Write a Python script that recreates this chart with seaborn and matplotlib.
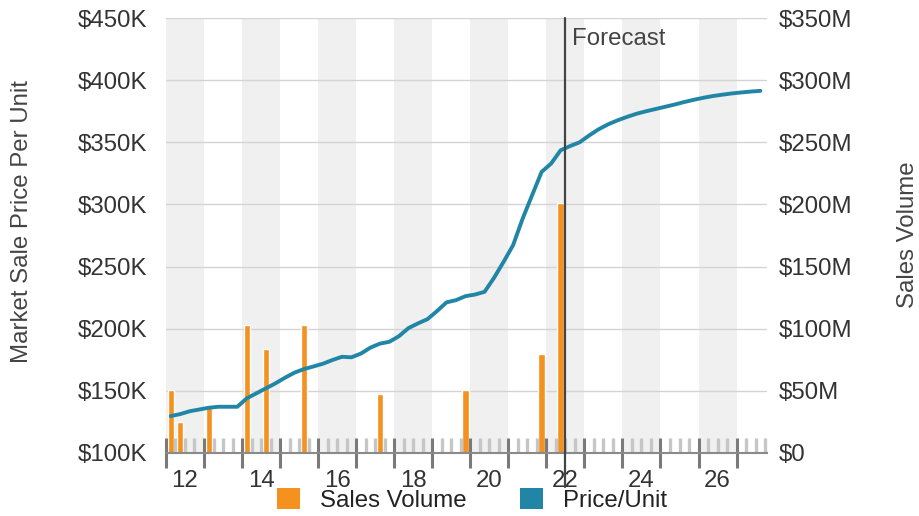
#!/usr/bin/env python
# -*- coding: utf-8 -*-
"""Market sale price per unit vs sales volume, quarterly, with forecast."""

import numpy as np
import pandas as pd
import matplotlib
matplotlib.use("Agg")
import matplotlib.pyplot as plt
from matplotlib.patches import Patch
import seaborn as sns

# ---- data -------------------------------------------------------------
START_QUARTER = "2012Q1"
price_k = [
    129.7, 131.3, 133.6, 135.0, 136.4, 137.2, 137.2, 137.2,
    144.0, 148.0, 152.0, 156.0, 160.5, 164.6, 167.5, 169.6,
    171.8, 174.8, 177.4, 177.0, 180.0, 184.8, 188.0, 189.5,
    194.0, 200.5, 204.3, 207.7, 214.2, 221.2, 223.0, 226.2,
    227.5, 229.7, 241.0, 253.8, 267.2, 288.5, 307.4, 326.2,
    332.9, 343.6, 347.0, 350.0, 355.5, 360.5, 364.5, 367.7,
    370.5, 373.0, 375.0, 376.8, 378.6, 380.4, 382.4, 384.2,
    385.8, 387.2, 388.3, 389.3, 390.1, 390.8, 391.4,
]
vol_quarters = ["2012Q1", "2012Q2", "2013Q1", "2014Q1", "2014Q3",
                "2015Q3", "2017Q3", "2019Q4", "2021Q4", "2022Q2"]
vol_m = [50.6, 25.2, 37.8, 103.0, 83.6, 103.0, 47.4, 50.6, 80.0, 201.0]
FORECAST_START = 2022.5

year_labels = ["12", "14", "16", "18", "20", "22", "24", "26"]
price_ticks = [100, 150, 200, 250, 300, 350, 400, 450]
vol_ticks = [0, 50, 100, 150, 200, 250, 300, 350]

LINE_COLOR = "#2186a6"
BAR_COLOR = "#f4911f"
TEXT_COLOR = "#333333"


def quarter_mid(q):
    p = pd.Period(q, freq="Q")
    return p.year + (p.quarter - 0.5) / 4.0


periods = pd.period_range(START_QUARTER, periods=len(price_k), freq="Q")
df_price = pd.DataFrame({
    "t": [p.year + (p.quarter - 0.5) / 4.0 for p in periods],
    "price": price_k,
})
df_vol = pd.DataFrame({"t": [quarter_mid(q) for q in vol_quarters], "vol": vol_m})

# ---- style ------------------------------------------------------------
sns.set_theme(style="white")
plt.rcParams["font.family"] = ["Liberation Sans", "DejaVu Sans"]
FS = 17.3

fig = plt.figure(figsize=(9.2, 5.16), dpi=100)
# price on the left (front), volume on the right (behind)
ax = fig.add_axes([0.1804, 0.1221, 0.6533, 0.843])
ax2 = ax.twinx()
ax.set_zorder(ax2.get_zorder() + 1)
ax.patch.set_visible(False)

x_min, x_max = 2012.0, 2027.8
ax.set_xlim(x_min, x_max)
ax.set_ylim(100, 450)
ax2.set_ylim(0, 350)

# alternating year bands (on back axes)
for yr in range(2012, 2028, 2):
    ax2.axvspan(yr, yr + 1, color="#f0f0f0", lw=0, zorder=0)

# gridlines on back axes
ax2.set_yticks(vol_ticks)
for v in vol_ticks[1:]:
    ax2.axhline(v, color="#d4d4d4", lw=1.0, zorder=1)

# bars: sales volume
ax2.bar(df_vol["t"], df_vol["vol"], width=0.165, color=BAR_COLOR, zorder=2)

# line: price per unit
sns.lineplot(data=df_price, x="t", y="price", ax=ax, color=LINE_COLOR,
             linewidth=2.8, zorder=3)

# forecast marker
ax.axvline(FORECAST_START, ymin=-0.078, ymax=1.0, color="#444444", lw=1.6,
           clip_on=False, zorder=4)
ax.annotate("Forecast", xy=(FORECAST_START, 1.0),
            xycoords=("data", "axes fraction"), xytext=(5, -15),
            textcoords="offset points", va="center", ha="left",
            fontsize=FS, color="#444444")

# ---- axes formatting --------------------------------------------------
for a in (ax, ax2):
    for s in ("top", "left", "right", "bottom"):
        a.spines[s].set_visible(False)
ax.spines["bottom"].set_visible(True)
ax.spines["bottom"].set_color("#8a8a8a")
ax.spines["bottom"].set_linewidth(1.5)

ax.set_yticks(price_ticks)
ax.set_yticklabels(["${}K".format(v) for v in price_ticks])
ax.tick_params(axis="y", length=0, pad=13.5, labelsize=FS, labelcolor=TEXT_COLOR)
ax2.set_yticklabels(["$0" if v == 0 else "${}M".format(v) for v in vol_ticks])
ax2.tick_params(axis="y", length=0, pad=8.5, labelsize=FS, labelcolor=TEXT_COLOR)

ax.set_ylabel("Market Sale Price Per Unit", fontsize=FS, color="#444444")
ax.yaxis.set_label_coords(-0.221, 0.533)
ax2.set_ylabel("Sales Volume", fontsize=FS, color="#444444", rotation=90)
ax2.yaxis.set_label_coords(1.216, 0.501)
ax.set_xlabel("")

# year boundary ticks (major), quarterly ticks (minor)
years = np.arange(2012, 2028)
quarters = [y + q / 4.0 for y in range(2012, 2028) for q in (1, 2, 3)]
quarters = [q for q in quarters if q <= x_max]
ax.set_xticks(years)
ax.set_xticklabels([])
ax.set_xticks(quarters, minor=True)
ax.tick_params(axis="x", which="both", bottom=True)
ax.tick_params(axis="x", which="major", direction="inout", length=22,
               width=2.2, color="#7a7a7a")
ax.tick_params(axis="x", which="minor", direction="in", length=10.8,
               width=2.4, color="#c6c6c6")

# year labels centred in the even years
sec = ax.secondary_xaxis("bottom")
sec.set_xticks([2000 + int(s) + 0.5 for s in year_labels])
sec.set_xticklabels(year_labels)
sec.tick_params(axis="x", length=0, pad=12, labelsize=FS, labelcolor=TEXT_COLOR)
sec.spines["bottom"].set_visible(False)

# legend
handles = [Patch(facecolor=BAR_COLOR, edgecolor="none", label="Sales Volume"),
           Patch(facecolor=LINE_COLOR, edgecolor="none", label="Price/Unit")]
fig.legend(handles=handles, loc="center", bbox_to_anchor=(0.513, 0.031),
           ncol=2, frameon=False, fontsize=FS, handlelength=0.95,
           handleheight=0.95, handletextpad=0.85, columnspacing=2.2,
           labelcolor="#222222")

fig.savefig("out.png", dpi=100)
plt.close(fig)
